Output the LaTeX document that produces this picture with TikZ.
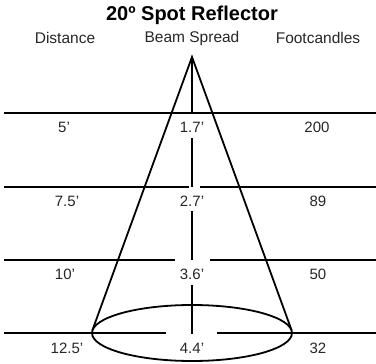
\documentclass[tikz,border=0pt]{standalone}
\usepackage{fontspec}
\setmainfont{Liberation Sans}
\begin{document}
\begin{tikzpicture}[x=1pt,y=-1pt,
  ln/.style={line width=1.8pt,black},
  hdr/.style={font=\fontsize{15.5}{18}\selectfont,text=black!85,inner sep=0pt,anchor=center},
  val/.style={font=\fontsize{15}{18}\selectfont,text=black!85,inner sep=0pt,anchor=center}]
\useasboundingbox (0,0) rectangle (376,364);
% title and headers
\node[font=\fontsize{20}{24}\selectfont\bfseries,inner sep=0pt] (title) at (192,15) {20º Spot Reflector};
\node[hdr] (hd) at (65,38) {Distance};
\node[hdr] (hb) at (192,38) {Beam Spread};
\node[hdr] (hf) at (318,38) {Footcandles};
% coordinates
\coordinate (apex) at (192,57);
\coordinate (l1a) at (4,113);   \coordinate (l1b) at (376,113); \coordinate (m1) at (192,113);
\coordinate (l2a) at (4,187);   \coordinate (l2b) at (189,187);
\coordinate (l2c) at (200,187); \coordinate (l2d) at (376,187);
\coordinate (l3a) at (4,260);   \coordinate (l3b) at (175,260);
\coordinate (l3c) at (210,260); \coordinate (l3d) at (376,260);
\coordinate (l4a) at (4,333);   \coordinate (l4b) at (166,333);
\coordinate (l4c) at (217,333); \coordinate (l4d) at (376,333);
\coordinate (v1a) at (192,138); \coordinate (v1b) at (192,187);
\coordinate (v2a) at (192,211); \coordinate (v2b) at (192,260);
\coordinate (v3a) at (192,285); \coordinate (v3b) at (192,334);
\coordinate (ec) at (192,333);
\coordinate (tl) at (92.4,330.2);
\coordinate (tr) at (291.6,330.2);
% horizontal lines
\draw[ln] (l1a) -- (l1b);
\draw[ln] (l2a) -- (l2b); \draw[ln] (l2c) -- (l2d);
\draw[ln] (l3a) -- (l3b); \draw[ln] (l3c) -- (l3d);
\draw[ln] (l4a) -- (l4b); \draw[ln] (l4c) -- (l4d);
% center vertical
\draw[ln] (apex) -- (m1);
\draw[ln] (v1a) -- (v1b);
\draw[ln] (v2a) -- (v2b);
\draw[ln] (v3a) -- (v3b);
% cone
\draw[ln,line join=miter] (tl) -- (apex) -- (tr);
\draw[ln] (ec) ellipse [x radius=100, y radius=28];
% values
\node[val] (d1) at (64,127) {5’};
\node[val] (d2) at (67,201) {7.5’};
\node[val] (d3) at (65,274) {10’};
\node[val] (d4) at (67,348) {12.5’};
\node[val] (b1) at (192,127) {1.7’};
\node[val] (b2) at (192,201) {2.7’};
\node[val] (b3) at (192,274) {3.6’};
\node[val] (b4) at (192,348) {4.4’};
\node[val] (f1) at (317,127) {200};
\node[val] (f2) at (318,201) {89};
\node[val] (f3) at (318,274) {50};
\node[val] (f4) at (318,348) {32};
\end{tikzpicture}
\end{document}
